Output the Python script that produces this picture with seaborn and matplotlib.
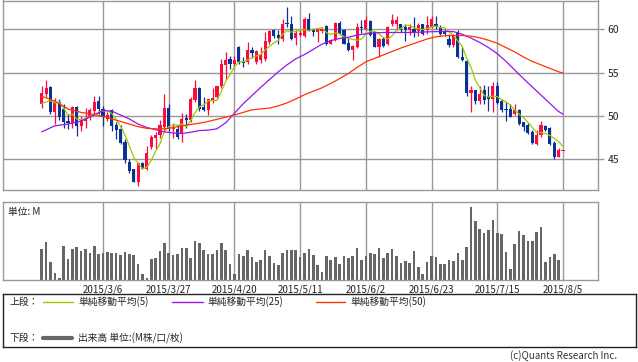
import numpy as np
import pandas as pd
import matplotlib
matplotlib.use("Agg")
import matplotlib.pyplot as plt
import seaborn as sns

# daily OHLC, one bar per trading day
open_ = [51.35, 52.58, 53.35, 50.46, 51.6, 50.85, 49.4, 49.2, 51.0, 48.8,
         49.4, 49.8, 50.6, 51.7, 50.85, 49.6, 50.65, 48.9, 48.5, 47.0,
         44.7, 43.8, 42.4, 44.5, 43.9, 46.35, 47.4, 47.77, 48.7, 50.96,
         48.5, 48.5, 48.0, 49.7, 49.5, 51.8, 53.23, 51.0, 50.65, 51.8,
         52.2, 53.4, 55.85, 56.6, 56.0, 58.0, 56.4, 56.2, 57.6, 56.2,
         56.5, 56.6, 58.5, 59.96, 59.3, 58.9, 60.73, 60.65, 59.04, 59.4,
         59.2, 61.2, 60.1, 59.7, 59.8, 60.35, 58.35, 58.8, 60.7, 59.9,
         58.4, 57.6, 57.96, 60.27, 60.0, 61.0, 59.7, 58.0, 58.9, 58.35,
         60.6, 60.6, 60.6, 60.27, 59.9, 60.1, 59.8, 60.6, 59.9, 60.27,
         60.6, 60.27, 59.8, 58.9, 58.15, 59.7, 56.8, 56.4, 52.65, 52.96,
         51.73, 52.96, 52.2, 51.96, 53.4, 51.73, 50.85, 50.85, 50.2, 50.73,
         49.27, 48.9, 48.15, 46.8, 47.77, 48.8, 48.54, 46.9, 45.27, 45.92]
high = [53.4, 54.2, 53.4, 52.1, 51.9, 51.4, 50.2, 51.1, 51.1, 50.0,
        50.9, 50.96, 52.3, 52.3, 51.1, 50.5, 50.85, 49.3, 49.0, 47.27,
        44.95, 43.9, 44.7, 44.7, 46.5, 47.8, 48.15, 49.5, 52.5, 51.35,
        49.2, 48.9, 50.35, 50.27, 52.2, 54.2, 53.35, 52.15, 52.0, 53.2,
        53.5, 56.6, 57.35, 56.9, 56.9, 58.1, 56.8, 58.6, 58.0, 57.6,
        58.0, 59.7, 59.96, 60.1, 59.9, 61.2, 62.65, 61.5, 59.9, 59.9,
        61.4, 61.85, 60.2, 60.1, 60.3, 60.5, 58.9, 60.85, 60.96, 60.1,
        59.1, 58.15, 60.73, 61.1, 61.6, 61.1, 59.8, 59.04, 59.1, 60.35,
        61.8, 61.6, 60.65, 60.6, 60.6, 61.4, 60.7, 60.65, 61.5, 61.6,
        61.6, 60.5, 60.0, 59.5, 59.5, 59.9, 57.96, 56.6, 53.5, 53.04,
        53.5, 53.6, 53.5, 53.9, 53.9, 52.0, 51.6, 51.35, 51.4, 50.85,
        49.3, 49.2, 48.35, 48.35, 49.4, 48.9, 48.7, 47.04, 46.23, 45.96]
low = [50.96, 52.2, 50.27, 49.1, 49.5, 48.6, 48.5, 48.6, 47.7, 48.3,
       48.6, 49.5, 50.1, 50.27, 48.8, 49.4, 48.3, 47.27, 46.7, 44.6,
       43.35, 42.3, 41.9, 43.8, 43.7, 46.2, 46.2, 47.4, 48.15, 48.23,
       47.4, 47.35, 46.96, 48.6, 49.3, 51.6, 50.6, 50.6, 50.1, 51.5,
       51.9, 53.27, 54.3, 55.4, 55.7, 55.96, 55.65, 55.96, 56.65, 55.96,
       56.15, 56.4, 58.3, 59.0, 58.35, 58.7, 60.27, 58.8, 58.2, 59.2,
       59.1, 59.8, 59.2, 58.5, 59.6, 58.15, 58.3, 58.7, 59.3, 58.3,
       57.5, 56.5, 57.9, 59.6, 59.96, 59.2, 57.96, 56.85, 57.96, 58.15,
       60.35, 60.0, 59.7, 58.7, 59.3, 59.1, 59.2, 59.3, 59.5, 60.2,
       60.1, 59.4, 59.2, 57.96, 57.96, 56.7, 56.4, 52.3, 50.46, 51.35,
       51.35, 51.4, 50.6, 50.46, 51.35, 50.46, 49.4, 49.85, 50.1, 48.96,
       48.3, 47.9, 46.8, 46.65, 47.6, 48.27, 46.6, 44.96, 45.2, 45.88]
close = [52.65, 53.27, 50.46, 51.6, 49.9, 49.3, 49.2, 51.0, 48.8, 49.5,
         49.8, 50.65, 51.6, 50.85, 49.9, 50.1, 48.8, 48.35, 46.9, 44.9,
         43.65, 42.4, 44.6, 43.9, 45.7, 47.6, 47.77, 48.9, 50.96, 48.5,
         48.7, 47.5, 49.6, 49.5, 52.0, 53.27, 50.85, 50.7, 51.9, 52.1,
         53.4, 55.96, 56.5, 56.0, 56.5, 56.2, 56.1, 57.6, 57.3, 57.5,
         57.0, 58.65, 59.8, 59.2, 59.04, 60.65, 60.65, 58.9, 59.6, 59.6,
         61.2, 59.9, 59.7, 60.1, 60.1, 58.35, 58.8, 60.7, 59.5, 58.35,
         57.6, 58.04, 60.27, 60.2, 61.1, 59.3, 58.0, 58.9, 58.04, 60.27,
         61.1, 61.1, 59.96, 59.96, 60.27, 59.7, 60.5, 59.5, 60.5, 61.2,
         60.3, 59.5, 59.5, 58.15, 59.3, 56.8, 56.5, 52.65, 52.96, 51.73,
         52.58, 51.8, 51.9, 53.4, 51.5, 50.73, 50.65, 49.9, 50.65, 49.04,
         48.73, 47.96, 46.9, 47.77, 48.9, 48.35, 46.73, 45.27, 46.04, 45.92]

# volume, M
volume = [3.1, 3.8, 1.8, 0.7, 0.2, 3.4, 2.1, 3.1, 3.3, 2.9,
          3.1, 2.7, 3.4, 2.6, 2.7, 2.77, 2.7, 2.7, 2.5, 2.8,
          2.6, 2.5, 1.6, 0.6, 0.2, 2.1, 2.2, 2.9, 3.7, 2.7,
          2.5, 2.6, 3.2, 3.2, 2.2, 3.9, 3.7, 3.0, 2.6, 2.6,
          3.0, 3.7, 3.0, 1.6, 0.6, 2.6, 2.4, 3.0, 2.3, 1.8,
          2.0, 3.0, 2.4, 1.7, 1.47, 2.7, 3.0, 3.0, 3.0, 2.3,
          2.7, 3.1, 2.5, 1.5, 0.8, 2.4, 2.0, 2.3, 1.6, 2.4,
          2.2, 2.4, 3.2, 2.0, 2.4, 2.7, 2.6, 3.2, 2.2, 2.7,
          3.1, 2.4, 1.7, 1.9, 1.7, 2.9, 1.3, 0.6, 1.8, 2.4,
          2.3, 1.6, 1.6, 2.0, 1.9, 2.7, 2.0, 3.3, 7.3, 5.9,
          5.1, 4.7, 5.0, 6.0, 4.7, 4.6, 2.8, 1.1, 3.6, 4.9,
          4.5, 3.9, 3.9, 4.8, 5.3, 1.8, 2.3, 2.6, 2.0, 0.0]

# moving averages
ma5_head = [51.45, 51.6, 51.75, 51.5]
ma_pos = [0, 3, 6, 9, 12, 14, 16, 18, 20, 22, 24, 26, 28, 30, 32,
          34, 36, 38, 40, 42, 44, 46, 48, 50, 52,
          54, 56, 58, 60, 62, 64, 66, 68, 70, 72,
          74, 76, 78, 80, 82, 84, 86, 88, 90, 92,
          94, 96, 98, 100, 102, 104, 106, 108, 110, 112,
          114, 116, 118, 119]
ma25 = [48.15, 48.85, 49.05, 49.4, 50.1, 50.6, 50.55, 50.1, 49.65, 49.05, 48.65, 48.4, 48.15, 48.02, 47.96,
        48.1, 48.3, 48.35, 48.5, 49.2, 50.3, 51.4, 52.35, 53.3, 54.2,
        55.1, 55.9, 56.6, 57.1, 57.7, 58.3, 58.7, 58.95, 59.1, 59.35,
        59.5, 59.6, 59.65, 59.65, 59.65, 59.65, 59.68, 59.72, 59.75, 59.77,
        59.75, 59.45, 59.0, 58.5, 57.9, 57.2, 56.3, 55.3, 54.3, 53.35,
        52.4, 51.45, 50.5, 50.2]
ma50 = [52.27, 51.7, 50.8, 50.4, 50.15, 49.95, 49.65, 49.35, 49.05, 48.75, 48.55, 48.5, 48.5, 48.65, 48.85,
        49.0, 49.15, 49.35, 49.6, 49.85, 50.1, 50.4, 50.7, 50.8, 50.9,
        51.15, 51.5, 51.95, 52.45, 52.85, 53.25, 53.75, 54.3, 54.9, 55.6,
        56.25, 56.65, 57.05, 57.45, 57.85, 58.2, 58.55, 58.9, 59.15, 59.27,
        59.3, 59.3, 59.22, 59.04, 58.75, 58.4, 57.9, 57.4, 56.8, 56.3,
        55.9, 55.5, 55.1, 54.96]

tick_pos = [14, 29, 44, 59, 74, 89, 104, 119]
tick_labels = ["2015/3/6", "2015/3/27", "2015/4/20", "2015/5/11",
               "2015/6/2", "2015/6/23", "2015/7/15", "2015/8/5"]

df = pd.DataFrame({"open": open_, "high": high, "low": low, "close": close, "volume": volume})
df["i"] = np.arange(len(df))
ma5 = df["close"].rolling(5).mean()
ma5.iloc[:4] = ma5_head
df["ma5"] = ma5

sns.set_style("white")
plt.rcParams["font.family"] = ["Noto Sans CJK JP", "DejaVu Sans"]

W, H = 638, 362
fig = plt.figure(figsize=(W / 100, H / 100), dpi=100)
grid_c = "#999999"
up_c, down_c = "#ff0a3c", "#0a3296"

ax = fig.add_axes([3 / W, 1 - 190 / H, 595 / W, 189.5 / H])
ax2 = fig.add_axes([3 / W, 1 - 280 / H, 595 / W, 78 / H])

# candles
colors = [up_c if c >= o else down_c for o, c in zip(df["open"], df["close"])]
ax.vlines(df["i"], df["low"], df["high"], colors=colors, lw=0.9, zorder=2)
body = (df["close"] - df["open"]).abs().clip(lower=0.08)
ax.bar(df["i"], body, bottom=df[["open", "close"]].min(axis=1), width=0.72,
       color=colors, linewidth=0, zorder=2)

sns.lineplot(x=df["i"], y=df["ma5"], ax=ax, color="#99cc00", lw=0.9, zorder=3)
sns.lineplot(x=ma_pos, y=ma25, ax=ax, color="#9a14f0", lw=0.9, zorder=3)
sns.lineplot(x=ma_pos, y=ma50, ax=ax, color="#ff3300", lw=0.9, zorder=3)

xlim = (-8.84, 127.0)
ax.set_xlim(*xlim)
ax.set_ylim(41.42, 63.35)
ax.set_xticks(tick_pos)
ax.set_yticks([45, 50, 55, 60])
ax.yaxis.tick_right()
ax.tick_params(axis="x", length=0, labelbottom=False)
ax.tick_params(axis="y", right=True, left=False, length=4, width=1, color=grid_c,
               labelsize=7.5, pad=3, labelcolor="#222222")
ax.set_xlabel("")
ax.set_ylabel("")
ax.grid(True, color=grid_c, lw=1, zorder=0)
ax.set_axisbelow(True)

# volume
ax2.bar(df["i"], df["volume"], width=0.6, color="#666666", linewidth=0, zorder=2)
ax2.set_xlim(*xlim)
ax2.set_ylim(0, 7.83)
ax2.set_yticks([])
ax2.set_xticks(tick_pos)
ax2.set_xticklabels(tick_labels)
ax2.tick_params(axis="x", length=0, labelsize=7, pad=3, labelcolor="#222222")
ax2.grid(True, axis="x", color=grid_c, lw=1, zorder=0)
ax2.set_axisbelow(True)
ax2.text(0.008, 0.93, "単位: M", transform=ax2.transAxes, fontsize=7, va="top", color="#222222")

for a in (ax, ax2):
    for s in a.spines.values():
        s.set_color(grid_c)
        s.set_linewidth(1)

# legend box
lax = fig.add_axes([3 / W, 1 - 347 / H, 633 / W, 53 / H])
lax.set_xlim(0, 633)
lax.set_ylim(53, 0)
lax.set_xticks([])
lax.set_yticks([])
for s in lax.spines.values():
    s.set_color("#222222")
    s.set_linewidth(1)
fs = 7
r1, r2 = 8, 44
lax.text(7, r1, "上段：", fontsize=fs, va="center")
lax.plot([40, 70], [r1, r1], color="#99cc00", lw=1)
lax.text(75, r1, "単純移動平均(5)", fontsize=fs, va="center")
lax.plot([169, 200], [r1, r1], color="#9a14f0", lw=1)
lax.text(204, r1, "単純移動平均(25)", fontsize=fs, va="center")
lax.plot([313, 342], [r1, r1], color="#ff3300", lw=1)
lax.text(347, r1, "単純移動平均(50)", fontsize=fs, va="center")
lax.text(7, r2, "下段：", fontsize=fs, va="center")
lax.plot([40, 69], [r2, r2], color="#666666", lw=3)
lax.text(75, r2, "出来高 単位:(M株/口/枚)", fontsize=fs, va="center")

fig.text(617 / W, 1 - 356 / H, "(c)Quants Research Inc.", fontsize=7, ha="right",
         va="center", color="#333333")

fig.savefig("out.png", dpi=100)
